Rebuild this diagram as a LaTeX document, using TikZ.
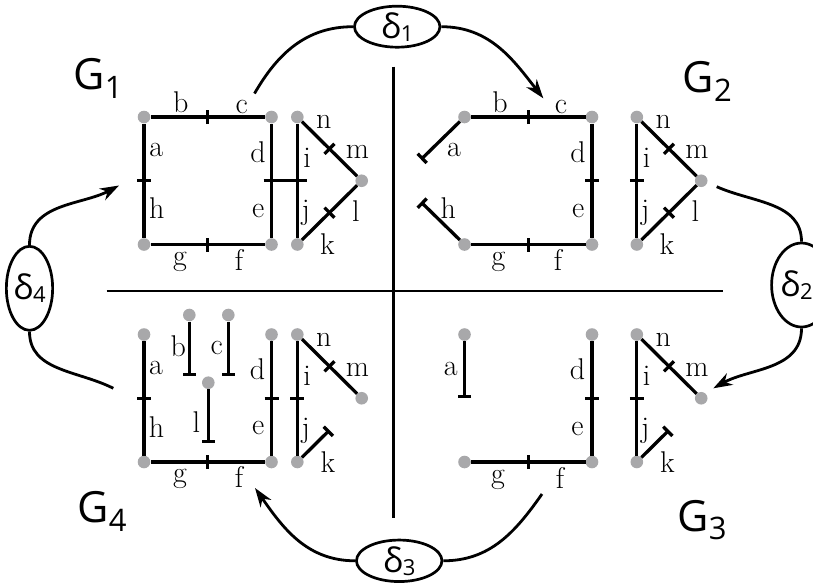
\documentclass[tikz,border=0pt]{standalone}
\usepackage{fontspec}
\newfontfamily\sansG{Open Sans}
\usetikzlibrary{arrows.meta,shapes.geometric,decorations.markings,calc}
\definecolor{dotgray}{RGB}{168,168,170}
\begin{document}
\begin{tikzpicture}[x=1pt,y=1pt,
  gdot/.style={circle,fill=dotgray,draw=none,inner sep=0pt,minimum size=12.6pt},
  gedge/.style={line width=3.3pt,line cap=butt},
  cutmark/.style={postaction={decorate,decoration={markings,mark=at position 0.5 with {\draw[line width=3.3pt] (0pt,-7pt) -- (0pt,7pt);}}}},
  tend/.style={-{Bar[width=13pt]}},
  lbl/.style={inner sep=0pt,font=\fontsize{30}{36}\selectfont},
  dbox/.style={ellipse,draw,line width=2.7pt,inner sep=0pt,font=\sansG\fontsize{34}{34}\selectfont},
  conn/.style={line width=2.8pt},
  arr/.style={conn,-{Stealth[length=19pt,width=13pt,inset=6pt]}},
  divider/.style={line width=2.8pt},
  glabel/.style={anchor=base west,inner sep=0pt,font=\sansG\fontsize{43}{43}\selectfont}
]
\useasboundingbox (0,0) rectangle (813,-584);

% dividers
\coordinate (vtop) at (393.3,-66.7);
\coordinate (vbot) at (393.3,-518.3);
\coordinate (hleft) at (106.7,-291);
\coordinate (hright) at (723,-291);
\draw[divider] (vtop) -- (vbot);
\draw[divider] (hleft) -- (hright);

% ---------- G1 ----------
\begin{scope}[shift={(144,-117)}]
 \node[gdot] (g1TL) at (0,0) {};
 \node[gdot] (g1TR) at (127.5,0) {};
 \node[gdot] (g1BL) at (0,-127.5) {};
 \node[gdot] (g1BR) at (127.5,-127.5) {};
 \draw[gedge,cutmark] (g1TL) -- (g1TR);
 \draw[gedge,cutmark] (g1TL) -- (g1BL);
 \draw[gedge,cutmark] (g1TR) -- (g1BR);
 \draw[gedge,cutmark] (g1BL) -- (g1BR);
 \node[lbl] (g1lb) at (36.8,14.5) {b};
 \node[lbl] (g1lc) at (97.7,10.3) {c};
 \node[lbl] (g1la) at (12.3,-33.3) {a};
 \node[lbl] (g1lh) at (12.7,-91.3) {h};
 \node[lbl] (g1ld) at (114,-35) {d};
 \node[lbl] (g1le) at (114.3,-93.8) {e};
 \node[lbl] (g1lg) at (36,-145) {g};
 \node[lbl] (g1lf) at (95,-142.7) {f};
 \begin{scope}[shift={(153.3,0)}]
  \node[gdot] (g1N) at (0,0) {};
  \node[gdot] (g1K) at (0,-127.5) {};
  \node[gdot] (g1V) at (64.4,-63.75) {};
  \draw[gedge,cutmark] (g1N) -- (g1K);
  \draw[gedge,cutmark] (g1N) -- (g1V);
  \draw[gedge,cutmark] (g1K) -- (g1V);
  \node[lbl] (g1li) at (9.7,-41) {i};
  \node[lbl] (g1lj) at (8.5,-96.3) {j};
  \node[lbl] (g1ln) at (26.5,-4.7) {n};
  \node[lbl] (g1lm) at (60.2,-35) {m};
  \node[lbl] (g1ll) at (58.5,-94) {l};
  \node[lbl] (g1lk) at (30.2,-127) {k};
 \end{scope}
 \coordinate (g1de) at ($(g1TR)!.5!(g1BR)$);
 \coordinate (g1ij) at ($(g1N)!.5!(g1K)$);
 \draw[gedge] ([xshift=-8pt]g1de) -- ([xshift=10pt]g1ij);
\end{scope}

% ---------- G2 ----------
\begin{scope}[shift={(464.5,-117)}]
 \node[gdot] (g2TL) at (0,0) {};
 \node[gdot] (g2TR) at (127.5,0) {};
 \node[gdot] (g2BL) at (0,-127.5) {};
 \node[gdot] (g2BR) at (127.5,-127.5) {};
 \draw[gedge,cutmark] (g2TL) -- (g2TR);
 \draw[gedge,cutmark] (g2TR) -- (g2BR);
 \draw[gedge,cutmark] (g2BL) -- (g2BR);
 \coordinate (g2aend) at (-43.5,-42.5);
 \coordinate (g2hend) at (-43.5,-85);
 \draw[gedge,tend] (g2TL) -- (g2aend);
 \draw[gedge,tend] (g2BL) -- (g2hend);
 \node[lbl] (g2lb) at (35.5,14.5) {b};
 \node[lbl] (g2lc) at (96.5,10.3) {c};
 \node[lbl] (g2la) at (-10.5,-33) {a};
 \node[lbl] (g2lh) at (-16.2,-91.3) {h};
 \node[lbl] (g2ld) at (113.5,-35) {d};
 \node[lbl] (g2le) at (113.8,-93.8) {e};
 \node[lbl] (g2lg) at (34,-145) {g};
 \node[lbl] (g2lf) at (93.5,-142.7) {f};
 \begin{scope}[shift={(172.3,0)}]
  \node[gdot] (g2N) at (0,0) {};
  \node[gdot] (g2K) at (0,-127.5) {};
  \node[gdot] (g2V) at (64.4,-63.75) {};
  \draw[gedge,cutmark] (g2N) -- (g2K);
  \draw[gedge,cutmark] (g2N) -- (g2V);
  \draw[gedge,cutmark] (g2K) -- (g2V);
  \node[lbl] (g2li) at (9.7,-41) {i};
  \node[lbl] (g2lj) at (8.5,-96.3) {j};
  \node[lbl] (g2ln) at (26.5,-4.7) {n};
  \node[lbl] (g2lm) at (60.2,-35) {m};
  \node[lbl] (g2ll) at (58.5,-94) {l};
  \node[lbl] (g2lk) at (30.2,-127) {k};
 \end{scope}
\end{scope}

% ---------- G4 ----------
\begin{scope}[shift={(144,-334.5)}]
 \node[gdot] (g4TL) at (0,0) {};
 \node[gdot] (g4TR) at (127.5,0) {};
 \node[gdot] (g4BL) at (0,-127.5) {};
 \node[gdot] (g4BR) at (127.5,-127.5) {};
 \draw[gedge,cutmark] (g4TL) -- (g4BL);
 \draw[gedge,cutmark] (g4TR) -- (g4BR);
 \draw[gedge,cutmark] (g4BL) -- (g4BR);
 \node[gdot] (g4b) at (45.3,19.5) {};
 \node[gdot] (g4c) at (84.3,19.5) {};
 \node[gdot] (g4l) at (64.3,-48.2) {};
 \coordinate (g4bend) at (45.3,-41.5);
 \coordinate (g4cend) at (84.3,-41.5);
 \coordinate (g4lend) at (64.3,-108.8);
 \draw[gedge,tend] (g4b) -- (g4bend);
 \draw[gedge,tend] (g4c) -- (g4cend);
 \draw[gedge,tend] (g4l) -- (g4lend);
 \node[lbl] (g4lb) at (34.3,-11.3) {b};
 \node[lbl] (g4lc) at (72.7,-13) {c};
 \node[lbl] (g4ll) at (52.3,-87.2) {l};
 \node[lbl] (g4la) at (12,-33.8) {a};
 \node[lbl] (g4lh) at (12.5,-92.2) {h};
 \node[lbl] (g4ld) at (113.5,-34.7) {d};
 \node[lbl] (g4le) at (114.3,-93.8) {e};
 \node[lbl] (g4lg) at (36,-144.5) {g};
 \node[lbl] (g4lf) at (95,-142.2) {f};
 \begin{scope}[shift={(153.3,0)}]
  \node[gdot] (g4N) at (0,0) {};
  \node[gdot] (g4K) at (0,-127.5) {};
  \node[gdot] (g4V) at (64.4,-63.75) {};
  \draw[gedge,cutmark] (g4N) -- (g4K);
  \draw[gedge,cutmark] (g4N) -- (g4V);
  \coordinate (g4kend) at ($(g4K)!.5!(g4V)$);
  \draw[gedge,tend] (g4K) -- (g4kend);
  \node[lbl] (g4li) at (9.7,-41) {i};
  \node[lbl] (g4lj) at (8.5,-96.3) {j};
  \node[lbl] (g4ln) at (26.5,-5.5) {n};
  \node[lbl] (g4lm) at (60.2,-35.5) {m};
  \node[lbl] (g4lk) at (30.7,-127.2) {k};
 \end{scope}
\end{scope}

% ---------- G3 ----------
\begin{scope}[shift={(464.5,-334.5)}]
 \node[gdot] (g3TL) at (0,0) {};
 \node[gdot] (g3TR) at (127.5,0) {};
 \node[gdot] (g3BL) at (0,-127.5) {};
 \node[gdot] (g3BR) at (127.5,-127.5) {};
 \draw[gedge,cutmark] (g3TR) -- (g3BR);
 \draw[gedge,cutmark] (g3BL) -- (g3BR);
 \coordinate (g3aend) at (0,-63.75);
 \draw[gedge,tend] (g3TL) -- (g3aend);
 \node[lbl] (g3la) at (-13.7,-34.3) {a};
 \node[lbl] (g3ld) at (113,-35) {d};
 \node[lbl] (g3le) at (113,-94.7) {e};
 \node[lbl] (g3lg) at (33.5,-145) {g};
 \node[lbl] (g3lf) at (95.5,-143.5) {f};
 \begin{scope}[shift={(172.3,0)}]
  \node[gdot] (g3N) at (0,0) {};
  \node[gdot] (g3K) at (0,-127.5) {};
  \node[gdot] (g3V) at (64.4,-63.75) {};
  \draw[gedge,cutmark] (g3N) -- (g3K);
  \draw[gedge,cutmark] (g3N) -- (g3V);
  \coordinate (g3kend) at ($(g3K)!.5!(g3V)$);
  \draw[gedge,tend] (g3K) -- (g3kend);
  \node[lbl] (g3li) at (9.7,-41) {i};
  \node[lbl] (g3lj) at (8.5,-96.3) {j};
  \node[lbl] (g3ln) at (26.5,-5.5) {n};
  \node[lbl] (g3lm) at (60.2,-35.5) {m};
  \node[lbl] (g3lk) at (30.7,-127.2) {k};
 \end{scope}
\end{scope}

% ---------- G labels ----------
\node[glabel] (G1) at (73.3,-89.5) {G\raisebox{-8.5pt}{\fontsize{31}{31}\selectfont 1}};
\node[glabel] (G2) at (682.6,-92.8) {G\raisebox{-8.5pt}{\fontsize{31}{31}\selectfont 2}};
\node[glabel] (G3) at (677.3,-531) {G\raisebox{-8.5pt}{\fontsize{31}{31}\selectfont 3}};
\node[glabel] (G4) at (77.3,-522.5) {G\raisebox{-8.5pt}{\fontsize{31}{31}\selectfont 4}};

% ---------- deltas ----------
\node[dbox,minimum width=85.5pt,minimum height=41pt] (d1) at (397.2,-26.7) {δ\raisebox{-3pt}{\fontsize{22}{22}\selectfont 1}};
\node[dbox,minimum width=85.5pt,minimum height=41.5pt] (d3) at (399.2,-560.8) {δ\raisebox{-3pt}{\fontsize{22}{22}\selectfont 3}};
\node[dbox,minimum width=46.3pt,minimum height=84pt] (d4) at (29.5,-288.3) {δ\raisebox{-3pt}{\fontsize{22}{22}\selectfont 4}};
\node[dbox,minimum width=46.3pt,minimum height=84pt] (d2) at (801.5,-285) {δ\raisebox{-3pt}{\fontsize{22}{22}\selectfont 2}\kern10pt};

\coordinate (c1a) at (254.5,-93.5);
\coordinate (c1b) at (543.3,-98.3);
\draw[conn] (d1.west) to[out=180,in=60] (c1a);
\draw[arr] (d1.east) to[out=0,in=128] (c1b);

\coordinate (c2a) at (716.7,-186.7);
\coordinate (c2b) at (713.3,-388.3);
\draw[conn] (d2.north) to[out=90,in=-24] (c2a);
\draw[arr] (d2.south) to[out=-90,in=29] (c2b);

\coordinate (c3a) at (542,-494);
\coordinate (c3b) at (255,-488);
\draw[conn] (d3.east) to[out=0,in=-125] (c3a);
\draw[arr] (d3.west) to[out=180,in=-55] (c3b);

\coordinate (c4a) at (113.3,-388.3);
\coordinate (c4b) at (119,-185.5);
\draw[conn] (d4.south) to[out=-90,in=153] (c4a);
\draw[arr] (d4.north) to[out=90,in=208] (c4b);
\end{tikzpicture}
\end{document}
